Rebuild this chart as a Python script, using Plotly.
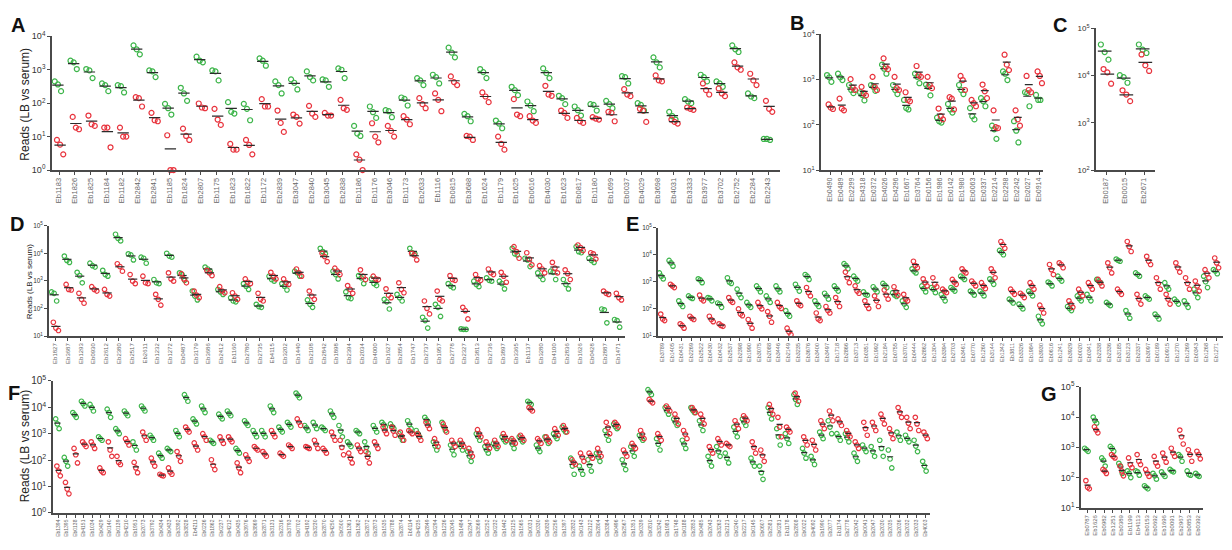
import plotly.graph_objects as go

W, H = 1232, 550
GREEN = '#3db54a'
RED = '#e8333d'

# ---------------- data (log10 of reads; 3 replicates per group) ----------------
A_labels = ["Eb1183","Eb1826","Eb1825","Eb1184","Eb1182","Eb2842","Eb2841","Eb1185","Eb1824","Eb2807","Eb1175","Eb1823","Eb1822","Eb1172","Eb2839","Eb3047","Eb2840","Eb3045","Eb2838","Eb1186","Eb1176","Eb3046","Eb1173","Eb2633","Eb1116","Eb0815","Eb3688","Eb1624","Eb1179","Eb1625","Eb0616","Eb4030","Eb1623","Eb0817","Eb1180","Eb1699","Eb0037","Eb4029","Eb3698","Eb4031","Eb3333","Eb3977","Eb3702","Eb2752","Eb2284","Eb2243"]
A_green = [[2.65,2.56,2.36],[3.27,3.22,3.02],[3.02,2.98,2.75],[2.59,2.54,2.36],[2.54,2.51,2.32],[3.73,3.61,3.46],[2.98,2.95,2.78],[1.98,1.85,1.66],[2.46,2.29,2.07],[3.39,3.27,3.22],[2.98,2.95,2.68],[2.03,1.74,1.69],[1.98,1.83,1.49],[3.34,3.27,3.12],[2.65,2.54,2.29],[2.71,2.61,2.41],[2.95,2.78,2.68],[2.71,2.68,2.49],[3.04,3.0,2.75],[1.32,1.09,1.02],[1.9,1.73,1.56],[1.79,1.76,1.58],[2.17,2.13,1.93],[2.75,2.68,2.54],[2.85,2.78,2.59],[3.66,3.51,3.37],[1.68,1.61,1.46],[3.02,2.93,2.75],[1.48,1.39,1.25],[2.49,2.39,2.24],[2.05,1.93,1.76],[3.04,2.9,2.75],[2.22,2.15,1.97],[1.9,1.79,1.63],[1.97,1.95,1.78],[2.07,1.97,1.85],[2.81,2.78,2.59],[2.0,1.95,1.78],[3.37,3.22,3.07],[1.74,1.61,1.51],[2.12,2.05,2.0],[2.85,2.78,2.65],[2.65,2.59,2.49],[3.73,3.61,3.53],[2.29,2.2,2.15],[0.93,0.93,0.9]]
A_red = [[0.9,0.76,0.47],[1.59,1.27,1.22],[1.63,1.37,1.32],[1.27,1.27,0.68],[1.27,1.0,1.0],[2.18,2.15,1.9],[1.71,1.49,1.46],[1.04,0.0,0.0],[1.24,1.02,0.9],[1.99,1.87,1.85],[1.83,1.51,1.35],[0.78,0.61,0.61],[0.9,0.75,0.47],[2.12,1.9,1.9],[1.78,1.41,1.14],[1.66,1.59,1.39],[1.92,1.69,1.59],[1.71,1.63,1.63],[2.1,1.85,1.8],[0.47,0.31,0.0],[1.4,1.0,0.83],[1.32,1.17,1.0],[1.61,1.51,1.37],[2.15,1.97,1.85],[2.29,2.1,1.76],[2.8,2.63,2.54],[1.02,1.0,0.9],[2.32,2.2,2.03],[1.0,0.78,0.61],[2.12,1.66,1.61],[1.61,1.48,1.41],[2.52,2.26,2.22],[1.78,1.71,1.56],[1.56,1.46,1.41],[1.58,1.54,1.51],[1.74,1.71,1.46],[2.42,2.26,2.21],[1.83,1.78,1.44],[2.83,2.68,2.65],[1.51,1.44,1.39],[1.87,1.83,1.8],[2.59,2.39,2.26],[2.44,2.29,2.21],[3.22,3.07,3.0],[2.88,2.68,2.54],[2.07,1.83,1.74]]

B_labels = ["Eb0490","Eb0489","Eb2299","Eb4318","Eb0372","Eb4026","Eb4296","Eb1667","Eb3764","Eb0156","Eb1986","Eb0142","Eb1980","Eb0063","Eb0337","Eb2214","Eb2298","Eb2242","Eb2027","Eb0914"]
B_green = [[3.1,3.05,2.95],[3.13,3.05,2.99],[2.88,2.77,2.70],[2.72,2.66,2.54],[2.88,2.84,2.75],[3.33,3.24,3.13],[2.88,2.77,2.68],[2.55,2.37,2.34],[3.13,3.06,2.92],[2.89,2.84,2.65],[2.16,2.08,2.05],[2.46,2.34,2.27],[2.88,2.77,2.68],[2.37,2.19,2.12],[2.59,2.52,2.41],[1.98,1.90,1.69],[3.18,3.13,2.99],[2.08,1.87,1.61],[2.72,2.70,2.41],[2.66,2.55,2.55]]
B_red = [[2.45,2.38,2.35],[2.58,2.36,2.32],[3.01,2.82,2.77],[2.84,2.70,2.65],[3.06,2.84,2.77],[3.47,3.28,3.23],[3.06,2.81,2.77],[2.72,2.55,2.52],[3.30,3.10,3.06],[3.06,2.88,2.81],[2.36,2.19,2.12],[2.61,2.58,2.34],[3.08,2.99,2.77],[2.55,2.48,2.41],[2.89,2.74,2.59],[2.32,1.95,1.93],[3.55,3.33,3.21],[2.32,2.12,1.98],[3.08,2.77,2.72],[3.18,3.08,2.92]]

C_labels = ["Eb0187","Eb0015","Eb2671"]
C_green = [[4.66,4.50,4.34],[4.01,3.97,3.85],[4.66,4.55,4.48]]
C_red = [[4.14,4.07,3.83],[3.69,3.60,3.46],[4.45,4.22,4.10]]

D_labels = ["Eb1827","Eb3687","Eb1293","Eb0930","Eb2612","Eb2380","Eb2517","Eb2611","Eb1232","Eb1272","Eb0487","Eb3179","Eb3686","Eb2412","Eb1160","Eb2780","Eb2735","Eb4115","Eb3202","Eb1440","Eb2108","Eb2842","Eb1898","Eb2394","Eb2034","Eb4000","Eb1627","Eb2854","Eb1747","Eb2737","Eb1957","Eb2778","Eb2327","Eb3813","Eb2736","Eb3897","Eb3365","Eb1137","Eb3280","Eb4100","Eb2836","Eb1626","Eb0428","Eb2887","Eb1471"]
D_green = [[2.60,2.55,2.27],[3.90,3.74,3.67],[3.31,3.19,2.93],[3.64,3.55,3.50],[3.38,3.23,3.17],[4.69,4.54,4.45],[3.98,3.94,3.76],[3.86,3.82,3.64],[3.05,2.93,2.90],[4.00,3.90,3.86],[3.29,3.23,3.02],[2.63,2.45,2.31],[3.50,3.43,3.35],[2.69,2.60,2.51],[2.39,2.27,2.24],[2.90,2.81,2.69],[2.15,2.07,2.04],[3.17,3.05,2.99],[2.90,2.81,2.67],[3.35,3.29,3.17],[2.31,2.15,2.04],[4.18,4.06,3.98],[3.35,3.23,3.07],[2.60,2.39,2.36],[3.19,3.11,2.90],[3.07,2.90,2.83],[2.33,2.24,1.98],[2.51,2.39,2.27],[4.18,4.02,3.98],[1.68,1.56,1.29],[2.15,2.04,1.71],[2.90,2.81,2.75],[1.26,1.24,1.24],[2.99,2.87,2.79],[3.11,3.02,2.99],[2.99,2.90,2.71],[4.18,3.98,3.94],[3.82,3.76,3.52],[3.29,3.17,3.05],[3.35,3.31,3.05],[3.05,2.87,2.71],[4.24,4.06,4.02],[3.82,3.74,3.67],[1.98,1.95,1.48],[1.60,1.56,1.32]]
D_red = [[1.50,1.29,1.20],[2.87,2.69,2.67],[2.55,2.33,2.19],[2.79,2.69,2.63],[2.69,2.51,2.45],[3.62,3.52,3.35],[3.23,2.99,2.90],[3.17,2.93,2.90],[2.51,2.33,2.12],[3.29,3.07,2.99],[3.26,3.07,2.93],[2.63,2.48,2.39],[3.38,3.29,3.19],[2.79,2.63,2.57],[2.57,2.45,2.33],[3.07,2.95,2.90],[2.55,2.33,2.27],[3.31,3.17,3.07],[3.07,2.93,2.87],[3.43,3.29,3.17],[2.63,2.45,2.33],[4.00,3.88,3.70],[3.46,3.35,3.23],[2.83,2.69,2.55],[3.40,3.17,3.05],[3.17,3.07,3.05],[2.71,2.48,2.39],[2.93,2.69,2.57],[4.00,3.94,3.76],[2.27,2.00,1.80],[2.63,2.33,2.27],[3.19,3.05,3.02],[2.04,1.92,1.62],[3.23,3.07,3.02],[3.43,3.29,3.23],[3.31,3.17,2.95],[4.24,4.06,3.82],[4.02,3.79,3.58],[3.55,3.43,3.29],[3.67,3.46,3.29],[3.40,3.26,3.05],[4.30,4.21,4.10],[4.02,3.98,3.79],[2.63,2.55,2.51],[2.55,2.39,2.31]]

E_labels = ["Eb3789","Eb1405","Eb0431","Eb2269","Eb2522","Eb0430","Eb0432","Eb2537","Eb2398","Eb1990","Eb3075","Eb2088","Eb3446","Eb2149","Eb3235","Eb3676","Eb3400","Eb3497","Eb1718","Eb2866","Eb3713","Eb0351","Eb1992","Eb2184","Eb0755","Eb3701","Eb0444","Eb2862","Eb1304","Eb3394","Eb2703","Eb3461","Eb0770","Eb1260","Eb3144","Eb1342","Eb3811","Eb3326","Eb1984","Eb3930","Eb0616","Eb1241","Eb3929","Eb0020","Eb0341","Eb2338","Eb2336","Eb3185","Eb3123","Eb2337","Eb3097","Eb0189","Eb0915","Eb1270","Eb1269","Eb0343","Eb1268","Eb1271"]
E_green = [[3.33,3.21,3.11],[3.79,3.70,3.58],[2.30,2.18,2.09],[2.48,2.42,2.39],[3.11,3.07,2.97],[2.42,2.39,2.30],[2.22,2.18,2.06],[3.15,2.99,2.94],[2.73,2.54,2.42],[2.24,2.14,2.06],[2.85,2.75,2.63],[2.48,2.36,2.24],[2.85,2.73,2.63],[1.94,1.81,1.73],[2.91,2.79,2.66],[3.27,3.21,3.09],[2.30,2.18,2.09],[2.58,2.48,2.36],[2.85,2.75,2.66],[3.67,3.60,3.48],[3.21,3.11,3.03],[2.63,2.54,2.51],[2.82,2.73,2.63],[2.94,2.87,2.79],[2.60,2.51,2.46],[2.30,2.18,2.06],[3.48,3.39,3.33],[2.85,2.75,2.63],[2.79,2.73,2.60],
           [2.54,2.42,2.30],[2.79,2.73,2.66],[3.21,3.15,3.09],[2.66,2.60,2.51],[2.66,2.58,2.48],[3.11,3.03,2.91],[4.16,4.09,4.00],[2.36,2.30,2.22],[2.18,2.09,2.00],[2.66,2.58,2.48],[1.73,1.57,1.45],[2.99,2.94,2.85],[3.21,3.11,3.03],[2.09,2.02,1.94],[2.48,2.39,2.30],[2.54,2.42,2.30],[3.09,3.03,2.97],[2.24,2.18,2.12],[3.84,3.79,3.76],[1.94,1.80,1.66],[3.33,3.27,3.21],[2.48,2.42,2.36],[1.81,1.73,1.63],[2.97,2.82,2.73],[2.36,2.28,2.18],[2.30,2.18,2.06],[2.73,2.58,2.42],[3.21,3.00,2.79],[3.45,3.40,3.30]]
E_red = [[1.81,1.63,1.57],[2.91,2.85,2.79],[1.45,1.39,1.29],[1.73,1.66,1.61],[2.51,2.36,2.30],[1.73,1.61,1.53],[1.45,1.39,1.36],[2.42,2.30,2.24],[2.00,1.81,1.75],[1.61,1.45,1.29],[2.24,2.09,2.00],[1.90,1.73,1.51],[2.24,2.09,2.02],[1.29,1.15,1.05],[2.30,2.18,2.12],[2.79,2.60,2.48],[1.85,1.63,1.57],[2.09,1.94,1.85],[2.42,2.24,2.09],[3.36,3.15,2.97],[2.85,2.66,2.58],[2.30,2.14,2.02],[2.48,2.30,2.09],[2.70,2.51,2.36],[2.82,2.63,2.51],[2.54,2.36,2.30],[3.76,3.60,3.52],[3.11,2.97,2.85],[3.15,2.91,2.82],
         [2.73,2.66,2.60],[3.09,2.99,2.91],[3.48,3.39,3.33],[3.03,2.94,2.85],[2.97,2.85,2.75],[3.48,3.36,3.15],[4.49,4.37,4.24],[2.73,2.63,2.54],[2.58,2.51,2.42],[2.97,2.85,2.73],[2.14,2.00,1.85],[3.64,3.45,3.27],[3.70,3.64,3.52],[2.30,2.18,2.06],[2.73,2.60,2.48],[2.97,2.85,2.73],[3.09,2.97,2.85],[3.70,3.52,3.33],[2.73,2.63,2.54],[4.49,4.30,4.12],[2.54,2.36,2.18],[3.94,3.76,3.64],[3.15,2.94,2.73],[2.54,2.36,2.18],[3.70,3.52,3.36],[3.15,2.94,2.73],[3.03,2.85,2.66],[3.45,3.30,3.15],[3.88,3.70,3.52]]

F_labels = ["Eb1394","Eb1395","Eb0138","Eb4151","Eb1034","Eb0429","Eb0140","Eb0139","Eb4210","Eb1951","Eb2073","Eb3792","Eb0434","Eb0433","Eb3392","Eb3828","Eb4211","Eb0236","Eb1862","Eb0237","Eb4212","Eb0435","Eb3976","Eb3869","Eb2871","Eb3131","Eb2316","Eb3793","Eb0702","Eb4192","Eb3230","Eb2870","Eb4250","Eb0500","Eb1361","Eb1362","Eb2872","Eb2873","Eb1535","Eb0788","Eb2874","Eb0114","Eb4235","Eb2849","Eb0294","Eb1236","Eb2045","Eb1484","Eb2347","Eb3569","Eb2252","Eb0232","Eb1442","Eb2125","Eb1565","Eb0031","Eb0330","Eb0839","Eb2256","Eb1397","Eb2832","Eb0143","Eb2122","Eb2804","Eb3384","Eb0496","Eb2567","Eb1351","Eb0339","Eb0810","Eb3242","Eb1981","Eb1748","Eb0188","Eb2853","Eb0485","Eb2043","Eb3263","Eb2121","Eb0240","Eb2217","Eb0145","Eb0607","Eb2581","Eb0281","Eb1178","Eb2808","Eb0022","Eb4092","Eb1990","Eb2077","Eb1174","Eb2778","Eb2042","Eb0041","Eb2047","Eb2030","Eb2035","Eb2036","Eb2032","Eb2033","Eb4003"]
F_green = [[3.56,3.37,3.19],[2.10,1.95,1.77],[3.80,3.72,3.62],[4.23,4.14,4.05],[4.11,3.99,3.86],[2.88,2.81,2.75],[3.93,3.80,3.62],[3.19,3.10,3.00],[3.86,3.77,3.68],[2.69,2.53,2.38],[4.05,3.96,3.86],[2.94,2.85,2.75],[2.26,2.16,2.07],[2.44,2.38,2.32],[3.12,3.00,2.88],[4.48,4.36,4.23],[3.56,3.47,3.37],[4.05,3.93,3.80],[2.75,2.69,2.63],[3.74,3.64,3.56],[3.86,3.77,3.68],[2.44,2.36,2.26],[3.49,3.40,3.31],[3.12,3.00,2.88],[3.12,3.00,2.88],[4.05,3.93,3.80],[3.25,3.15,3.06],[3.43,3.35,3.25],[4.54,4.46,4.36],[3.31,3.22,3.12],[3.43,3.31,3.19],[3.25,3.19,3.12],[3.86,3.74,3.62],[3.31,3.10,2.88],
           [2.69,2.60,2.51],[3.12,3.06,3.00],[2.69,2.48,2.26],[3.31,3.19,3.06],[3.43,3.35,3.25],[3.37,3.27,3.19],[3.00,2.88,2.75],[3.49,3.35,3.19],[3.12,3.00,2.88],[3.62,3.52,3.43],[2.69,2.53,2.38],[3.43,3.27,3.12],[2.57,2.38,2.20],[2.63,2.51,2.38],[2.32,2.14,1.95],[3.00,2.88,2.75],[2.51,2.38,2.26],[2.63,2.53,2.44],[2.88,2.78,2.69],[2.75,2.60,2.44],[2.88,2.78,2.69],[4.23,4.17,4.11],[2.57,2.44,2.32],[2.88,2.75,2.63],[3.00,2.90,2.81],[3.25,3.15,3.06],[2.07,1.77,1.46],[1.77,1.62,1.46],[2.01,1.79,1.58],[2.26,2.11,1.95],[3.12,2.94,2.75],[3.37,3.27,3.19],[2.01,1.83,1.64],[2.51,2.32,2.14],[2.94,2.85,2.75],[4.67,4.58,4.48],[2.81,2.60,2.38],
           [3.99,3.86,3.74],[3.56,3.43,3.31],[2.75,2.60,2.44],[3.99,3.89,3.80],[3.49,3.31,3.12],[2.14,1.95,1.77],[2.51,2.32,2.14],[2.26,2.07,1.89],[3.25,3.06,2.88],[3.56,3.43,3.31],[2.07,1.91,1.77],[1.77,1.52,1.27],[3.99,3.77,3.56],[3.19,2.88,2.57],[3.00,2.81,2.63],[4.48,4.30,4.11],[2.44,2.26,2.07],[2.14,1.99,1.83],[3.06,2.94,2.81],[3.49,3.25,3.00],[3.00,2.88,2.75],[3.00,2.85,2.69],[2.26,2.11,1.95],[2.57,2.44,2.32],[2.51,2.32,2.14],[2.75,2.44,2.14],[2.38,2.04,1.70],[3.06,2.90,2.75],[2.94,2.81,2.69],[2.75,2.53,2.32],[1.95,1.77,1.58]]
F_red = [[1.77,1.58,1.40],[1.15,0.90,0.72],[2.44,2.20,1.89],[2.69,2.60,2.51],[2.69,2.57,2.44],[1.70,1.58,1.52],[2.69,2.38,2.14],[2.14,1.91,1.83],[2.81,2.69,2.57],[1.91,1.70,1.52],[3.06,2.90,2.75],[2.07,1.91,1.77],[1.46,1.42,1.40],[1.70,1.54,1.46],[2.32,2.14,1.95],[3.25,3.15,3.06],[2.65,2.51,2.38],[3.00,2.88,2.75],[2.01,1.79,1.64],[2.88,2.75,2.63],[2.88,2.78,2.69],[1.89,1.70,1.52],[2.20,2.07,1.95],[2.51,2.44,2.38],[2.32,2.23,2.14],[3.12,3.00,2.88],[2.26,2.20,2.14],[2.57,2.51,2.44],[3.56,3.43,3.31],[2.51,2.48,2.44],[2.75,2.60,2.44],[2.44,2.36,2.26],[3.06,2.90,2.75],[2.75,2.48,2.20],
         [2.26,2.07,1.89],[2.57,2.44,2.32],[2.32,2.11,1.89],[2.69,2.57,2.44],[3.25,3.12,3.00],[3.25,3.10,2.94],[3.06,2.90,2.75],[3.12,3.06,3.00],[3.00,2.88,2.75],[3.43,3.31,3.19],[2.81,2.65,2.51],[3.37,3.22,3.06],[2.75,2.63,2.51],[2.75,2.63,2.51],[2.44,2.28,2.14],[3.15,3.00,2.88],[2.69,2.57,2.44],[2.75,2.63,2.51],[3.00,2.88,2.75],[2.81,2.73,2.63],[2.94,2.85,2.75],[3.99,3.93,3.86],[2.81,2.73,2.63],[2.88,2.78,2.69],[3.19,3.06,2.94],[3.31,3.19,3.06],[2.01,1.91,1.83],[2.26,2.11,1.95],[2.26,2.16,2.07],[2.44,2.28,2.14],[3.43,3.22,3.00],[3.43,3.35,3.25],[2.38,2.26,2.14],[2.63,2.53,2.44],[3.12,2.98,2.81],[4.30,4.23,4.17],[3.00,2.88,2.75],
         [4.05,3.96,3.86],[3.74,3.56,3.37],[3.12,2.98,2.81],[3.99,3.89,3.80],[3.74,3.56,3.37],[2.51,2.38,2.26],[2.81,2.69,2.57],[2.63,2.57,2.51],[3.49,3.35,3.19],[3.68,3.59,3.49],[2.69,2.48,2.26],[2.38,2.16,1.95],[4.11,3.93,3.74],[3.62,3.25,2.88],[3.25,3.15,3.06],[4.54,4.38,4.23],[2.88,2.73,2.57],[2.75,2.57,2.38],[3.49,3.35,3.19],[3.86,3.68,3.49],[3.56,3.43,3.31],[3.12,3.00,2.88],[2.69,2.57,2.44],[3.43,3.19,2.94],[3.43,3.27,3.12],[3.74,3.56,3.37],[3.19,3.00,2.81],[3.99,3.80,3.62],[3.62,3.40,3.19],[3.62,3.37,3.12],[3.06,2.94,2.81]]

G_labels = ["Eb0787","Eb1626","Eb0982","Eb1251","Eb0389","Eb1199","Eb4113","Eb0153","Eb0692","Eb1696","Eb0091","Eb2967","Eb0853","Eb0392"]
G_green = [[2.97,2.92,2.87],[4.00,3.89,3.80],[2.65,2.57,2.38],[3.03,2.97,2.87],[2.47,2.38,2.14],[2.22,2.14,2.00],[2.22,2.19,2.08],[1.73,1.68,1.63],[2.14,2.06,1.95],[2.19,2.11,2.04],[2.27,2.22,2.19],[2.76,2.70,2.54],[2.22,2.11,2.08],[2.14,2.08,2.04]]
G_red = [[1.90,1.68,1.63],[3.68,3.57,3.48],[2.27,2.22,2.14],[2.76,2.70,2.65],[2.38,2.22,2.06],[2.65,2.43,2.33],[2.76,2.54,2.43],[2.27,2.14,2.04],[2.70,2.49,2.38],[2.81,2.65,2.51],[2.97,2.81,2.70],[3.57,3.35,3.11],[2.92,2.76,2.54],[2.87,2.76,2.62]]

# ---------------- drawing ----------------
FONT = "Liberation Sans, Arial, sans-serif"
OFFS = [-0.2, 0.0, 0.2]
fig = go.Figure()
layout_axes = {}


def add_panel(k, labels, green, red, x0, x1, first_px, last_px, ytop, ybot,
              lo, hi, tickfs, catfs, msize):
    n = len(labels)
    step = (last_px - first_px) / (n - 1)
    xr = [(x0 - first_px) / step, n - 1 + (x1 - last_px) / step]
    sfx = '' if k == 1 else str(k)
    for vals, col, sh in ((green, GREEN, -0.07), (red, RED, 0.07)):
        xs, ys, lx, ly = [], [], [], []
        for i, trip in enumerate(vals):
            lin = [10 ** v for v in trip]
            for j, v in enumerate(lin):
                xs.append(i + sh + OFFS[j])
                ys.append(v)
            m = sum(lin) / len(lin)
            lx += [i + sh - 0.36, i + sh + 0.36, None]
            ly += [m, m, None]
        fig.add_trace(go.Scatter(x=xs, y=ys, mode='markers', cliponaxis=False,
                                 marker=dict(symbol='circle-open', size=msize, color=col,
                                             line=dict(width=1.2, color=col)),
                                 xaxis='x' + sfx, yaxis='y' + sfx, showlegend=False,
                                 hoverinfo='skip'))
        fig.add_trace(go.Scatter(x=lx, y=ly, mode='lines', cliponaxis=False,
                                 line=dict(color='#2b2b2b', width=1.2),
                                 xaxis='x' + sfx, yaxis='y' + sfx, showlegend=False,
                                 hoverinfo='skip'))
    layout_axes['xaxis' + sfx] = dict(
        domain=[x0 / W, x1 / W], range=xr, anchor='y' + sfx,
        tickmode='array', tickvals=list(range(n)), ticktext=labels, tickangle=-90,
        tickfont=dict(size=catfs, color='#666', family=FONT),
        showline=True, linecolor='#4a4a4a', linewidth=1.6, ticks='outside',
        ticklen=3, tickwidth=1, tickcolor='#4a4a4a', showgrid=False, zeroline=False)
    layout_axes['yaxis' + sfx] = dict(
        domain=[1 - ybot / H, 1 - ytop / H], type='log', range=[lo, hi],
        anchor='x' + sfx, tickmode='array',
        tickvals=[10 ** e for e in range(lo, hi + 1)],
        ticktext=['10<sup>%d</sup>' % e for e in range(lo, hi + 1)],
        tickfont=dict(size=tickfs, color='#333', family=FONT),
        showline=True, linecolor='#4a4a4a', linewidth=1.6, ticks='outside',
        ticklen=3, tickwidth=1.2, tickcolor='#4a4a4a', showgrid=False, zeroline=False)


add_panel(1, A_labels, A_green, A_red, 52, 780, 59, 768, 30, 167, 0, 4, 9, 7.5, 5)
add_panel(2, B_labels, B_green, B_red, 821, 1043, 830, 1039, 28, 167, 1, 4, 8, 7, 5)
add_panel(3, C_labels, C_green, C_red, 1096, 1155, 1106, 1144, 22, 167, 2, 5, 8, 7.5, 5)
add_panel(4, D_labels, D_green, D_red, 49, 625, 55, 618, 224, 337, 1, 5, 6.5, 6, 4.5)
add_panel(5, E_labels, E_green, E_red, 658, 1223, 662, 1216, 226, 337, 1, 5, 6.5, 5.5, 4.5)
add_panel(6, F_labels, F_green, F_red, 53, 930, 58, 925, 383, 518, 0, 5, 10, 5, 4.5)
add_panel(7, G_labels, G_green, G_red, 1081, 1203, 1087, 1198, 389, 513, 1, 5, 9, 6, 4.5)

annotations = []
for letter, px, py in (('A', 18, 18), ('B', 797, 16), ('C', 1060, 18), ('D', 17, 222),
                       ('E', 632, 222), ('F', 14, 395), ('G', 1049, 396)):
    annotations.append(dict(text='<b>%s</b>' % letter, x=px / W, y=1 - py / H,
                            xref='paper', yref='paper', showarrow=False,
                            xanchor='center', yanchor='middle',
                            font=dict(size=20, color='#111', family=FONT)))
for px, py, fs in ((25, 100, 12), (29, 282, 8), (25, 450, 12)):
    annotations.append(dict(text='Reads (LB vs serum)', x=px / W, y=1 - py / H,
                            xref='paper', yref='paper', showarrow=False, textangle=-90,
                            xanchor='center', yanchor='middle',
                            font=dict(size=fs, color='#222', family=FONT)))

fig.update_layout(width=W, height=H, margin=dict(l=0, r=0, t=0, b=0),
                  paper_bgcolor='white', plot_bgcolor='white',
                  font=dict(family=FONT), annotations=annotations, **layout_axes)

fig.write_html("out.html", config={'displayModeBar': False},
               post_script="document.body.style.margin='0px';document.body.style.overflow='hidden';")
